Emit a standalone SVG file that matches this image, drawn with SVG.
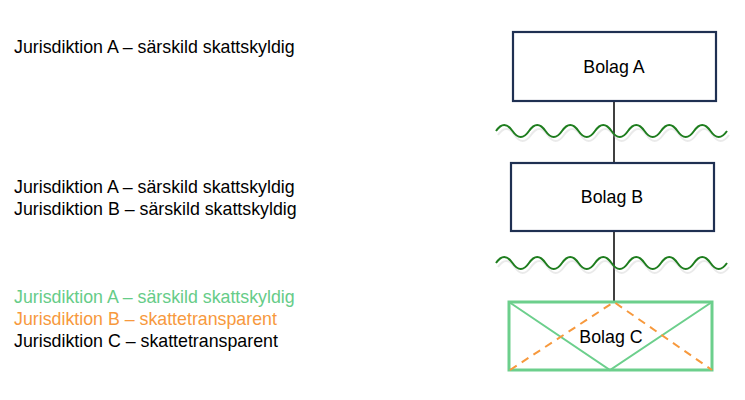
<svg xmlns="http://www.w3.org/2000/svg" width="745" height="400" viewBox="0 0 745 400">
<defs>
<style>
text{font-family:"Liberation Sans",Arial,sans-serif;font-size:17.8px;fill:#000}
.g{fill:#66cc88}
.o{fill:#f7993d}
.box{fill:#fff;stroke:#1f3052;stroke-width:2.2}
.wave{fill:none;stroke:#1e7d1e;stroke-width:2}
.shadow{fill:none;stroke:#bbb;stroke-width:2;opacity:0.3}
.lbl{text-anchor:middle}
</style>
<path id="w" d="M0,6 q8.25,-12 16.5,0 t16.5,0 t16.5,0 t16.5,0 t16.5,0 t16.5,0 t16.5,0 t16.5,0 t16.5,0 t16.5,0 t16.5,0 t16.5,0 t16.5,0 t16.5,0"/>
</defs>
<rect width="745" height="400" fill="#fff"/>
<g id="texts">
<text x="14" y="53">Jurisdiktion A – särskild skattskyldig</text>
<text x="14" y="193">Jurisdiktion A – särskild skattskyldig</text>
<text x="14" y="215">Jurisdiktion B – särskild skattskyldig</text>
<text x="14" y="303" class="g">Jurisdiktion A – särskild skattskyldig</text>
<text x="14" y="325" class="o">Jurisdiktion B – skattetransparent</text>
<text x="14" y="347">Jurisdiktion C – skattetransparent</text>
</g>
<g id="connectors">
<line x1="614" y1="101" x2="614" y2="163" stroke="#000" stroke-width="1.5"/>
<line x1="614" y1="231" x2="614" y2="302" stroke="#000" stroke-width="1.5"/>
</g>
<g id="waves">
<use href="#w" x="497" y="127" class="shadow" transform="translate(1,2)"/>
<use href="#w" x="496" y="125" class="wave"/>
<use href="#w" x="497" y="259" class="shadow" transform="translate(1,2)"/>
<use href="#w" x="496" y="257" class="wave"/>
</g>
<g id="bolagA">
<rect class="box" x="513" y="32" width="203" height="69"/>
<text class="lbl" x="614" y="73">Bolag A</text>
</g>
<g id="bolagB">
<rect class="box" x="511" y="163" width="203" height="68"/>
<text class="lbl" x="612" y="203">Bolag B</text>
</g>
<g id="bolagC">
<rect x="509" y="302" width="203" height="68" fill="#fff" stroke="#6ccf8c" stroke-width="3"/>
<polyline points="509,302 610,370 712,302" fill="none" stroke="#6ccf8c" stroke-width="2"/>
<polyline points="510,370 614,302 712,370" fill="none" stroke="#f7993d" stroke-width="2" stroke-dasharray="8,6"/>
<text class="lbl" x="611" y="343">Bolag C</text>
</g>
</svg>
